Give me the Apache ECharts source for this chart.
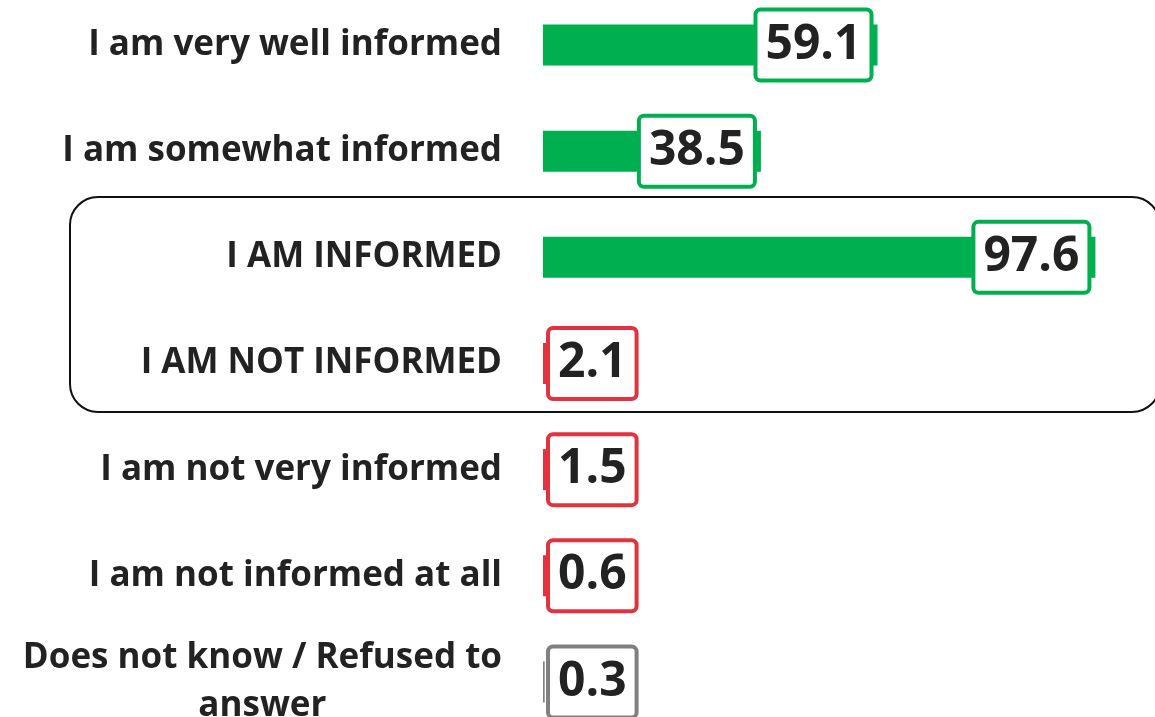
<!DOCTYPE html>
<html>
<head>
<meta charset="utf-8">
<script src="https://cdn.jsdelivr.net/npm/echarts@6/dist/echarts.min.js"></script>
<style>
  html, body { margin: 0; padding: 0; background: #fff; }
  #chart { width: 1155px; height: 717px; }
</style>
</head>
<body>
<div id="chart"></div>
<script>
// categories, top to bottom
var categories = [
  'I am very well informed',
  'I am somewhat informed',
  'I AM INFORMED',
  'I AM NOT INFORMED',
  'I am not very informed',
  'I am not informed at all',
  'Does not know / Refused to\nanswer'
];
var values = [59.1, 38.5, 97.6, 2.1, 1.5, 0.6, 0.3];
// which colour group each row belongs to
var groups = ['yes', 'yes', 'yes', 'no', 'no', 'no', 'dk'];

var groupColor = { yes: '#00B050', no: '#E0333F', dk: '#808080' };

var chart = echarts.init(document.getElementById('chart'));

var seriesData = values.map(function (v, i) {
  var c = groupColor[groups[i]];
  var small = v < 20; // box won't fit inside short bars, push it to the start
  return {
    value: v,
    itemStyle: { color: c },
    label: {
      position: small ? 'insideLeft' : 'insideRight',
      distance: small ? 7 : 8,
      borderColor: c
    }
  };
});

var option = {
  animation: false,
  grid: { left: 543, right: 46, top: -8, bottom: -18, outerBoundsMode: 'none', containLabel: false },
  xAxis: {
    type: 'value', min: 0, max: 100, show: false
  },
  yAxis: {
    type: 'category',
    data: categories,
    inverse: true,
    axisLine: { show: false },
    axisTick: { show: false },
    axisLabel: {
      margin: 41,
      fontFamily: 'Open Sans',
      fontWeight: 'bold',
      fontSize: 35,
      color: '#222',
      formatter: function (v) {
        if (v.indexOf('\n') >= 0) {
          return v.split('\n').map(function (s) { return '{c|' + s + '}'; }).join('\n');
        }
        return v;
      },
      rich: {
        c: {
          align: 'center', fontFamily: 'Open Sans', fontWeight: 'bold',
          fontSize: 35, color: '#222', lineHeight: 48
        }
      }
    }
  },
  series: [{
    type: 'bar',
    data: seriesData,
    barWidth: 41,
    label: {
      show: true,
      fontFamily: 'Open Sans',
      fontWeight: 'bold',
      fontSize: 48,
      color: '#222',
      backgroundColor: '#fff',
      borderWidth: 4,
      borderRadius: 3,
      padding: [7, 8, 3, 8],
      lineHeight: 57,
      formatter: function (p) { return p.value.toFixed(1); }
    }
  }],
  graphic: [{
    type: 'rect',
    shape: { x: 70, y: 197, width: 1090, height: 215, r: 28 },
    style: { fill: null, stroke: '#111', lineWidth: 2 },
    z: 100
  }]
};

chart.setOption(option);
</script>
</body>
</html>
